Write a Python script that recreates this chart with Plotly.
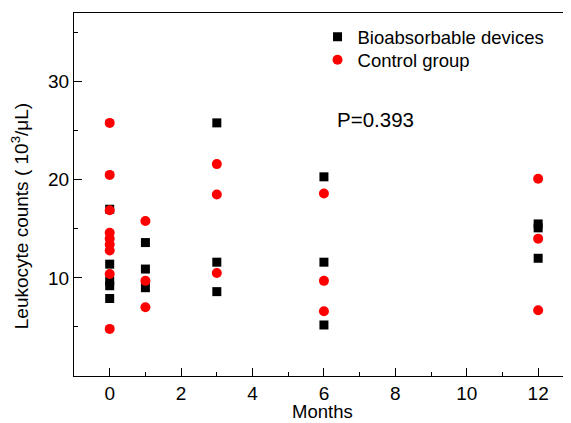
import plotly.graph_objects as go

# Data
bio_months = [0, 0, 0, 0, 0, 1, 1, 1, 3, 3, 3, 6, 6, 6, 12, 12, 12]
bio_counts = [17.0, 11.4, 9.7, 9.2, 7.9, 13.6, 10.9, 9.0, 25.8, 11.6, 8.6, 20.3, 11.6, 5.2, 15.5, 15.1, 12.0]

ctrl_months = [0, 0, 0, 0, 0, 0, 0, 0, 0, 1, 1, 1, 3, 3, 3, 6, 6, 6, 12, 12, 12]
ctrl_counts = [25.8, 20.5, 16.9, 14.6, 14.0, 13.4, 12.8, 10.4, 4.8, 15.8, 9.7, 7.0, 21.6, 18.5, 10.5, 18.6, 9.7, 6.6, 20.1, 14.0, 6.7]

x_ticks = [0, 2, 4, 6, 8, 10, 12]
y_ticks = [10, 20, 30]
p_text = "P=0.393"

FONT = "Liberation Sans, Arial, sans-serif"

fig = go.Figure()
fig.add_trace(go.Scatter(
    x=bio_months, y=bio_counts, mode="markers", name="Bioabsorbable devices",
    marker=dict(symbol="square", size=9, color="black", line=dict(width=0)),
    legend="legend",
))
fig.add_trace(go.Scatter(
    x=ctrl_months, y=ctrl_counts, mode="markers", name="Control group",
    marker=dict(symbol="circle", size=10, color="#ff0000", line=dict(width=0)),
    legend="legend2",
))

fig.add_annotation(x=6.32, y=26.1, xref="x", yref="y", text=p_text, showarrow=False,
                   xanchor="left", yanchor="middle", font=dict(family=FONT, size=20.5, color="black"))
fig.add_annotation(x=-0.1087, y=0.44, xref="paper", yref="paper",
                   text="Leukocyte counts ( 10<sup>3</sup>/μL)", textangle=-90, showarrow=False,
                   xanchor="center", yanchor="middle", font=dict(family=FONT, size=19, color="black"))
fig.add_annotation(x=0.5, y=-0.098, xref="paper", yref="paper", text="Months", showarrow=False,
                   xanchor="center", yanchor="middle", font=dict(family=FONT, size=18.5, color="black"))

legend_style = dict(xanchor="left", yanchor="middle", bgcolor="rgba(0,0,0,0)",
                    font=dict(family=FONT, size=18.5, color="black"))

# The page body has an 8px margin; compensate so the plot area lands where the reference has it
fig.update_layout(
    width=563, height=415,
    margin=dict(l=66, r=0, t=5, b=47),
    paper_bgcolor="white", plot_bgcolor="white",
    font=dict(family=FONT, size=19, color="black"),
    showlegend=True,
    legend=dict(x=0.49, y=0.933, **legend_style),
    legend2=dict(x=0.49, y=0.870, **legend_style),
)
fig.update_xaxes(
    range=[-1, 12.92], tickmode="array", tickvals=x_ticks, ticktext=[str(v) for v in x_ticks],
    ticks="inside", ticklen=8, tickwidth=1.3, tickcolor="black",
    showline=True, linecolor="black", linewidth=1.3, mirror=True,
    showgrid=False, zeroline=False,
    minor=dict(dtick=1, ticks="inside", ticklen=4, tickwidth=1.2, tickcolor="black", showgrid=False),
    tickfont=dict(family=FONT, size=19, color="black"),
)
fig.update_yaxes(
    range=[0, 37], tickmode="array", tickvals=y_ticks, ticktext=[str(v) for v in y_ticks],
    ticks="inside", ticklen=8, tickwidth=1.3, tickcolor="black",
    showline=True, linecolor="black", linewidth=1.3, mirror=False,
    showgrid=False, zeroline=False,
    minor=dict(tick0=0, dtick=5, ticks="inside", ticklen=4, tickwidth=1.2, tickcolor="black", showgrid=False),
    tickfont=dict(family=FONT, size=19, color="black"),
)

fig.write_html("out.html")
